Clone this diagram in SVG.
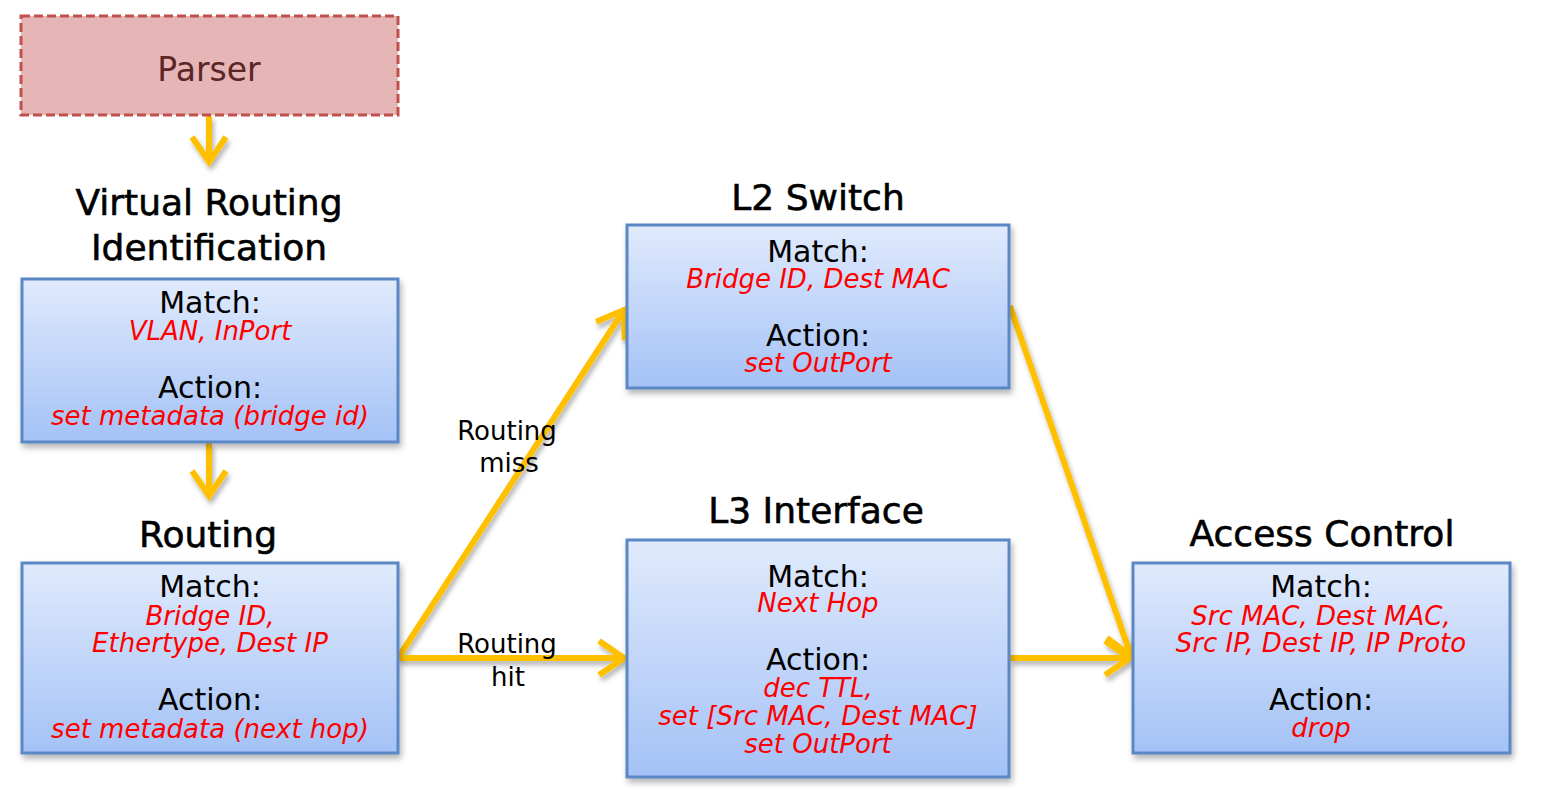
<svg xmlns="http://www.w3.org/2000/svg" width="1551" height="795" viewBox="0 0 1551 795">
<defs>
<linearGradient id="bg" x1="0" y1="0" x2="0" y2="1">
<stop offset="0" stop-color="#e0eafc"/>
<stop offset="1" stop-color="#a4c2f6"/>
</linearGradient>
<filter id="sh" x="-10%" y="-10%" width="130%" height="140%">
<feDropShadow dx="2" dy="4" stdDeviation="3" flood-color="#000" flood-opacity="0.3"/>
</filter>
<filter id="ash" x="-20%" y="-20%" width="140%" height="140%">
<feDropShadow dx="2" dy="4" stdDeviation="2.5" flood-color="#000" flood-opacity="0.3"/>
</filter>
<marker id="ah" markerUnits="userSpaceOnUse" markerWidth="40" markerHeight="50" viewBox="-30 -25 40 50" refX="0" refY="0" orient="auto">
<path d="M-25,-17 L0,0 L-25,17" fill="none" stroke="#ffc000" stroke-width="6" stroke-linecap="butt" stroke-linejoin="miter"/>
</marker>
</defs>
<style>
.box{fill:url(#bg);stroke:#5b87c5;stroke-width:3;filter:url(#sh)}
.title{font-family:"DejaVu Sans",sans-serif;font-size:36px;fill:#000;stroke:#000;stroke-width:0.6;text-anchor:middle}
.k{font-family:"DejaVu Sans",sans-serif;font-size:30px;fill:#000;text-anchor:middle}
.v{font-family:"DejaVu Sans",sans-serif;font-size:26px;font-style:italic;fill:#ff0000;text-anchor:middle}
.lbl{font-family:"DejaVu Sans",sans-serif;font-size:26px;fill:#000;text-anchor:middle}
.c{fill:none;stroke:#ffc000;stroke-width:6;marker-end:url(#ah)}
</style>
<rect width="1551" height="795" fill="#fff"/>
<g id="connectors" filter="url(#ash)">
<path class="c" d="M209,116 L209,162"/>
<path class="c" d="M209,443 L209,496"/>
<path class="c" d="M398,658 L624,310"/>
<path class="c" d="M398,658 L624,658"/>
<path class="c" d="M1010,306 L1131,656"/>
<path class="c" d="M1010,658 L1130,658"/>
</g>
<g id="parser">
<rect x="21" y="16" width="377" height="99" fill="#e6b5b5" stroke="#c0504d" stroke-width="3" stroke-dasharray="9,4"/>
<text x="209" y="81" font-family="DejaVu Sans, sans-serif" font-size="33" fill="#5a2626" text-anchor="middle">Parser</text>
</g>
<g id="vri">
<text class="title" x="209" y="215">Virtual Routing</text>
<text class="title" x="209" y="260">Identification</text>
<rect class="box" x="22" y="279" width="376" height="163"/>
<text class="k" x="210" y="313">Match:</text>
<text class="v" x="210" y="340">VLAN, InPort</text>
<text class="k" x="210" y="398">Action:</text>
<text class="v" x="210" y="425">set metadata (bridge id)</text>
</g>
<g id="routing">
<text class="title" x="208" y="547">Routing</text>
<rect class="box" x="22" y="563" width="376" height="190"/>
<text class="k" x="210" y="597">Match:</text>
<text class="v" x="210" y="625">Bridge ID,</text>
<text class="v" x="210" y="652">Ethertype, Dest IP</text>
<text class="k" x="210" y="710">Action:</text>
<text class="v" x="210" y="738">set metadata (next hop)</text>
</g>
<g id="l2switch">
<text class="title" x="818" y="210">L2 Switch</text>
<rect class="box" x="627" y="225" width="382" height="163"/>
<text class="k" x="818" y="262">Match:</text>
<text class="v" x="818" y="288">Bridge ID, Dest MAC</text>
<text class="k" x="818" y="346">Action:</text>
<text class="v" x="818" y="372">set OutPort</text>
</g>
<g id="l3interface">
<text class="title" x="816" y="523">L3 Interface</text>
<rect class="box" x="627" y="540" width="382" height="237"/>
<text class="k" x="818" y="587">Match:</text>
<text class="v" x="818" y="612">Next Hop</text>
<text class="k" x="818" y="670">Action:</text>
<text class="v" x="818" y="697">dec TTL,</text>
<text class="v" x="818" y="725">set [Src MAC, Dest MAC]</text>
<text class="v" x="818" y="753">set OutPort</text>
</g>
<g id="accesscontrol">
<text class="title" x="1322" y="546">Access Control</text>
<rect class="box" x="1133" y="563" width="377" height="190"/>
<text class="k" x="1321" y="597">Match:</text>
<text class="v" x="1321" y="625">Src MAC, Dest MAC,</text>
<text class="v" x="1321" y="652">Src IP, Dest IP, IP Proto</text>
<text class="k" x="1321" y="710">Action:</text>
<text class="v" x="1321" y="737">drop</text>
</g>
<g id="labels">
<text class="lbl" x="507" y="440">Routing</text>
<text class="lbl" x="509" y="472">miss</text>
<text class="lbl" x="507" y="653">Routing</text>
<text class="lbl" x="508" y="686">hit</text>
</g>
</svg>
